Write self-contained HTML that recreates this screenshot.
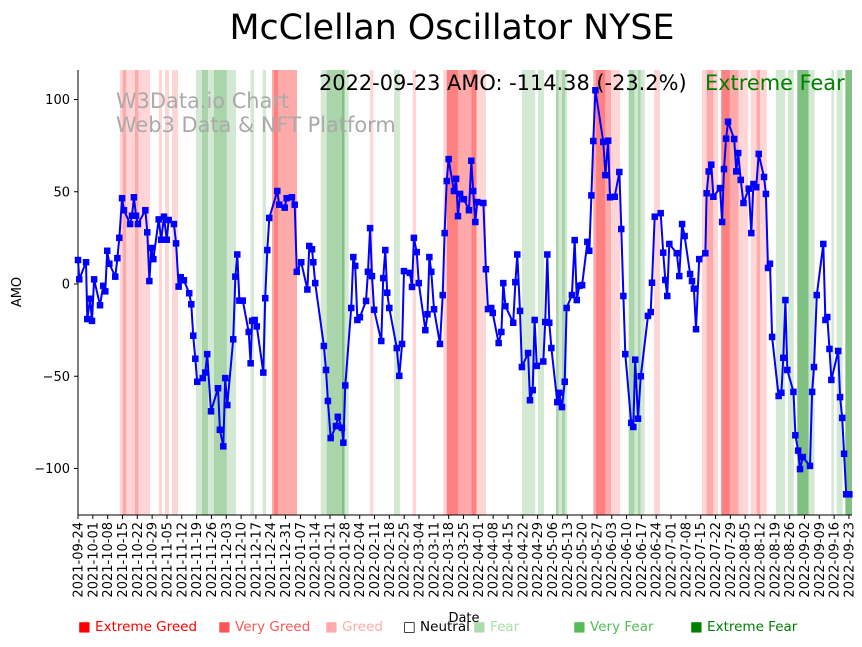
<!DOCTYPE html>
<html><head><meta charset="utf-8">
<style>
html,body{margin:0;padding:0;background:#fff;}
body{width:862px;height:642px;overflow:hidden;font-family:"Liberation Sans","DejaVu Sans",sans-serif;}
svg text{font-family:"DejaVu Sans","Liberation Sans",sans-serif;}
</style></head>
<body>
<svg id="chart" width="862" height="642" viewBox="0 0 862 642" xmlns="http://www.w3.org/2000/svg">
<text x="452" y="39" text-anchor="middle" font-size="34.8" fill="#000">McClellan Oscillator NYSE</text>
<g id="bands"></g>
<g id="grid"></g>
<text x="116" y="108" font-size="20.9" fill="#aaa">W3Data.io Chart</text>
<text x="116" y="132" font-size="20.9" fill="#aaa">Web3 Data &amp; NFT Platform</text>
<g id="series"></g>
<text x="319" y="90" font-size="20.9" fill="#000">2022-09-23 AMO: -114.38 (-23.2%)</text>
<text x="705" y="90" font-size="20.9" fill="#008000">Extreme Fear</text>
<text x="464" y="622" text-anchor="middle" font-size="13" fill="#000">Date</text>
<text transform="translate(21,292) rotate(-90)" text-anchor="middle" font-size="13" fill="#000">AMO</text>
<g id="legend"></g>
</svg>
<script>
// days since 2021-09-24
const days=[0,0.6,3.8,4.4,5.7,6.6,7.6,10.4,11.9,12.9,13.8,14.8,17.6,18.6,19.5,20.8,21.7,24.6,25.5,26.4,27.4,28.3,31.8,32.7,33.7,34.6,35.6,38.1,39.3,40.6,41.9,42.8,45.3,46.3,47.5,48.5,50,52.5,53.5,54.4,55.4,56.3,58.9,60.1,61,62.8,66.1,67,68.6,69.5,70.5,73.3,74.3,75.2,76.2,77.8,80.6,81.5,82.2,83.4,84.4,87.5,88.4,89.4,90.3,94.1,95,97.6,98.5,101,102.3,103.3,105.4,108.3,109.2,110.5,111.1,112,116.1,117.1,118,119.3,121.8,122.7,124.6,125.3,126.2,129,130,130.9,131.9,133.1,136,136.9,137.9,138.8,139.8,143.2,144.1,145.1,146,147,150.5,151.7,153,153.9,156.7,157.7,158.6,159.9,160.9,164,165,165.9,166.8,168.1,170.9,172.2,173.1,174.1,175,177.5,178.5,179.4,180.4,182.2,184.6,185.7,186.6,187.6,188.5,191.4,192.6,193.6,195.1,195.8,198.6,199.9,200.8,201.8,205.5,206.5,207.4,208.7,209.6,212.5,213.4,214.7,215.6,216.6,219.7,220.6,221.6,222.5,223.5,226.3,227.2,228.5,229.8,230.7,233.2,234.5,235.5,236.7,238,240.5,241.4,242.4,243.3,244.3,248,249,250.3,251.2,253.4,255.6,256.5,257.5,258.4,261.2,262.2,263.1,264.4,265.7,269.1,270.4,271,272.3,275.1,276.3,277.3,278.2,279.2,282.7,283.9,285.2,286.4,289,289.9,290.8,291.8,293.3,296.2,296.8,297.8,299,300,303.1,304.1,305,306,306.9,309.8,310.8,311.7,312.9,314.2,316.7,317.9,318.9,320.2,321.4,323.9,324.8,325.8,326.7,327.7,330.8,332.1,333,334,334.9,337.8,338.7,340,340.9,342.2,345.6,346.6,347.5,348.8,351.9,352.9,353.8,354.8,355.7,358.9,359.8,360.8,361.7,362.7,364.2];
const amo=[13,2.5,11.8,-19,-8,-20,2.5,-11.5,-1,-4,18,11,4,14,25,46.5,40,32.5,37,47,37,32.5,40,28,1.6,19.5,13.5,35,24,36.5,24,34.7,32.5,22,-1.4,3.7,2,-5,-11,-28,-40.5,-53,-51,-48,-38,-69,-56.5,-79,-88,-51,-65.6,-30,4,16,-9,-9,-26,-43,-20,-19.5,-23,-48,-7.7,18.4,35.8,50.4,43,41.4,46.5,47,43,6.6,11.8,-3,20.6,18.8,11.8,0.5,-33.6,-46.6,-63.4,-83.5,-77,-72,-78,-86,-55,-13,14.6,9.8,-19.5,-18,-9.2,6.6,30.3,4.3,-14,-30.9,3.2,18.4,-4.7,-13,-34.7,-49.8,-32.5,7,6,-1.6,25,17.3,0.5,-25,-16.4,14.6,6.6,-13.7,-32.5,-6,27.6,55.8,67.7,50.4,57,36.8,48.8,46,40,66.8,50.4,33.6,44.4,43.9,8,-13.6,-13,-15.7,-32,-26,0.5,-12,-21,1,16,-14.6,-45,-37.4,-63,-57.5,-19.5,-44.4,-42,-20.6,16,-21,-34.7,-64,-59,-66.7,-53,-13,-6,23.8,-8.7,-1,-0.6,22.8,18,48,77.5,105,77,59,77.7,47,47.3,60.7,29.8,-6.5,-38,-75.3,-77.5,-41,-73,-50,-17.3,-15.2,0.7,36.5,38.4,17,2.2,-6.5,21.7,16.7,4.3,32.5,26,5.4,1.6,-2.5,-24.5,13.5,16.7,49.2,61,64.7,47.3,52,33.6,62.3,78.8,88,78.6,61,71,56.4,43.9,51.7,27.6,54.2,52.5,70.5,58,48.8,8.7,11,-28.7,-60.7,-59,-40,-8.7,-46.6,-58.5,-82,-90.3,-100.3,-93.8,-98.6,-58.5,-45,-6,21.7,-19.5,-17.9,-35.2,-52,-36.3,-61.3,-72.6,-92,-114,-114];
const bandStart=[19.8,21.1,26.9,38.2,41.1,44.4,55.7,58.5,61.4,64.2,70.3,81.5,87.2,91.6,92.5,114.6,117.4,124.6,125.9,137.9,149.2,158,172.5,174.1,179.4,185.7,188.2,209.6,217.2,225.7,227,228.5,230.1,243.3,244.6,249,251.7,260,262.8,264.4,265.7,272,294.6,296.8,300,303.7,307.8,311.9,317.6,320.4,322,329.5,335.2,339.6,345,355.7,358.2,362.3];
const bandEnd=[34,22.7,28.5,39.7,43,47.2,58.5,61.4,64.2,70.3,74.6,83.1,88.8,103.4,94.4,117.4,124.6,125.9,127.8,139.4,152,159.6,174.1,179.4,185.7,188.2,192.6,215.9,220,227,228.5,230.1,231,244.6,249,251.7,255.9,262.8,264.4,265.7,267.6,274.8,296.8,300,302.2,307.8,311.9,316.3,320.4,322,325.2,333.9,338,345,347.8,356.9,361,366];
const bandLevel=[1,2,2,1,1,1,-1,-2,-1,-2,-1,-1,-1,2,3,-1,-2,-3,-1,1,-1,1,1,3,2,3,1,-1,-1,-2,-1,-2,-1,2,3,2,1,-2,-1,-2,-1,1,1,2,1,3,2,1,1,2,1,-1,-1,-3,-1,-1,-1,-3];
const yTicks=[100,50,0,-50,-100];
const legendLabels=["Extreme Greed","Very Greed","Greed","Neutral","Fear","Very Fear","Extreme Fear"];

const NS="http://www.w3.org/2000/svg";
const X0=78,X1=852,Y0=70,Y1=515;
const xs=d=>78+d*2.118;
const ys=v=>284-v*1.845;
function mk(tag,attrs,parent){const e=document.createElementNS(NS,tag);for(const k in attrs)e.setAttribute(k,attrs[k]);parent.appendChild(e);return e;}
const bandColor={"3":"#ff8080","2":"#ffaaaa","1":"#ffd5d5","-1":"#d4e9d4","-2":"#aad4aa","-3":"#80c080"};
const gB=document.getElementById('bands');
for(let i=0;i<bandStart.length;i++){
  const a=Math.max(X0,xs(bandStart[i])),b=Math.min(X1,xs(bandEnd[i]));
  const r=mk('rect',{x:a,y:Y0,width:Math.max(0,b-a),height:Y1-Y0,fill:bandColor[bandLevel[i]]},gB);
  
  
}
const gG=document.getElementById('grid');
let l=mk('line',{x1:X0,y1:Y0,x2:X0,y2:Y1,stroke:'#000','stroke-width':1},gG);

l=mk('line',{x1:X0,y1:Y1,x2:X1,y2:Y1,stroke:'#000','stroke-width':1},gG);

yTicks.forEach(v=>{
  const y=ys(v);
  mk('line',{x1:X0-4,y1:y,x2:X0,y2:y,stroke:'#000'},gG);
  const t=mk('text',{x:X0-8,y:y+4.5,'text-anchor':'end','font-size':13},gG);
  t.textContent=String(v).replace('-','\u2212');
  
  
});
const start=new Date(Date.UTC(2021,8,24));
for(let w=0;w<=52;w++){
  const d=w*7,x=xs(d);
  mk('line',{x1:x,y1:Y1,x2:x,y2:Y1+4,stroke:'#000'},gG);
  const dt=new Date(start.getTime()+d*86400000);
  const s=dt.toISOString().slice(0,10);
  const t=mk('text',{transform:`translate(${x+4.5},${Y1+7}) rotate(-90)`,'text-anchor':'end','font-size':13},gG);
  t.textContent=s;
  
  
}
const gS=document.getElementById('series');
const pts=days.map((d,i)=>xs(d).toFixed(1)+','+ys(amo[i]).toFixed(1)).join(' ');
const pl=mk('polyline',{points:pts,fill:'none',stroke:'#0000ff','stroke-width':2,'stroke-linejoin':'round'},gS);


days.forEach((d,i)=>{
  const m=mk('rect',{x:xs(d)-3,y:ys(amo[i])-3,width:6,height:6,fill:'#0000ff',stroke:'#0000ff','stroke-width':0.5},gS);
  
  
});
const gL=document.getElementById('legend');
const legX=[78,218,325,403,473,573,690];
const legCol=["#ff0000","#ff5555","#ffaaaa","#000000","#aaddaa","#55bb55","#008000"];
const legSym=["\u25A0","\u25A0","\u25A0","\u25A1","\u25A0","\u25A0","\u25A0"];
legendLabels.forEach((lab,i)=>{
  const t=mk('text',{x:legX[i],y:631,'font-size':13.5,fill:legCol[i]},gL);
  t.textContent=legSym[i]+' '+lab;
  
  
});
</script>
</body></html>
